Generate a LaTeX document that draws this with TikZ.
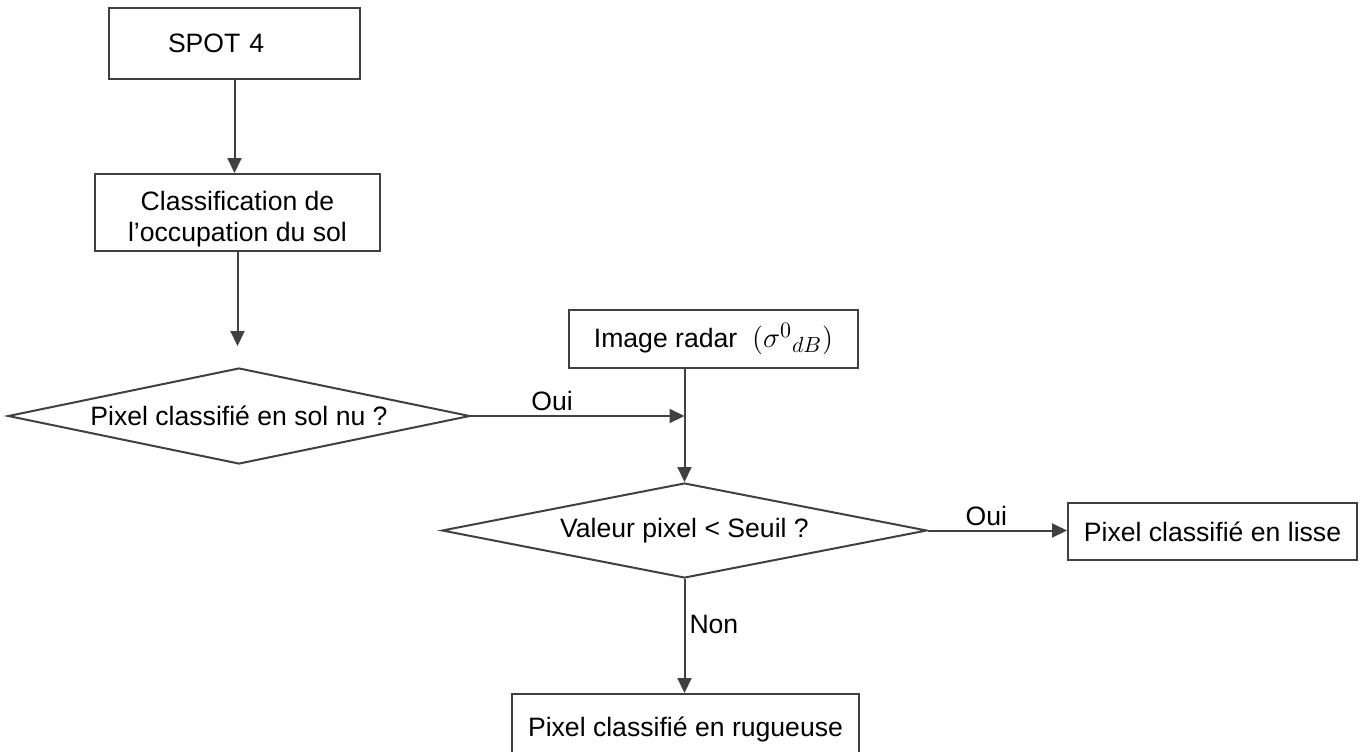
\documentclass[tikz,border=0pt]{standalone}
\usepackage{fontspec}
\setmainfont{Liberation Sans}
\usetikzlibrary{arrows.meta, shapes.geometric}
\definecolor{trait}{RGB}{64, 64, 64}

\begin{document}
\begin{tikzpicture}[
          x=0.5pt, y=-0.5pt,
          font=\fontsize{13.3}{15.5}\selectfont,
          boite/.style={draw=trait, line width=1pt, rectangle, inner sep=0pt},
          choix/.style={draw=trait, line width=1pt, diamond, inner sep=0pt, aspect=4.8},
          fleche/.style={-{Triangle[length=7.5pt, width=7pt]}, line width=1pt, trait},
          etiq/.style={inner sep=2pt, text=black}
        ]
        \useasboundingbox (0,0) rectangle (1367,751);
        \clip (0,0) rectangle (1367,751);
        \node[boite, text width=66.5pt, inner xsep=29.5pt, minimum height=35.5pt, align=left] (spot) at (234.5,43.5) {SPOT 4};
        \node[boite, minimum width=142.5pt, minimum height=38.5pt] (classif) at (237.5,212.5) {\raisebox{-7.2pt}[0pt][0pt]{\begin{tabular}{@{}c@{}}Classification de\\l’occupation du sol\end{tabular}}};
        \node[choix, minimum width=231pt, minimum height=48pt] (nu) at (239,416) {Pixel classifié en sol nu ?};
        \node[boite, minimum width=144.5pt, minimum height=29pt] (radar) at (713.5,339) {Image radar\;\;{\fontsize{15}{18}\selectfont$(\sigma^{0}{}_{dB})$}};
        \node[choix, minimum width=242.5pt, minimum height=47.5pt] (seuil) at (684.5,530.5) {Valeur pixel < Seuil ?};
        \node[boite, minimum width=144.5pt, minimum height=28.5pt] (lisse) at (1212.5,531.5) {Pixel classifié en lisse};
        \node[boite, minimum width=173.5pt, minimum height=35pt] (rug) at (685.5,729) {Pixel classifié en rugueuse};
        \draw[fleche] (spot.south) -- (spot.south |- classif.north);
        \draw[fleche, shorten >=10.5pt] (classif.south) -- (classif.south |- nu.north);
        \draw[fleche] (nu.east) -- (nu.east -| seuil.north) node[etiq, above, pos=0.38] {Oui};
        \draw[fleche] (seuil.north |- radar.south) -- (seuil.north);
        \draw[fleche] (seuil.east) -- (seuil.east -| lisse.west) node[etiq, above, pos=0.42] {Oui};
        \draw[fleche] (seuil.south) -- (seuil.south |- rug.north) node[etiq, right, pos=0.4] {Non};
      \end{tikzpicture}
\end{document}
